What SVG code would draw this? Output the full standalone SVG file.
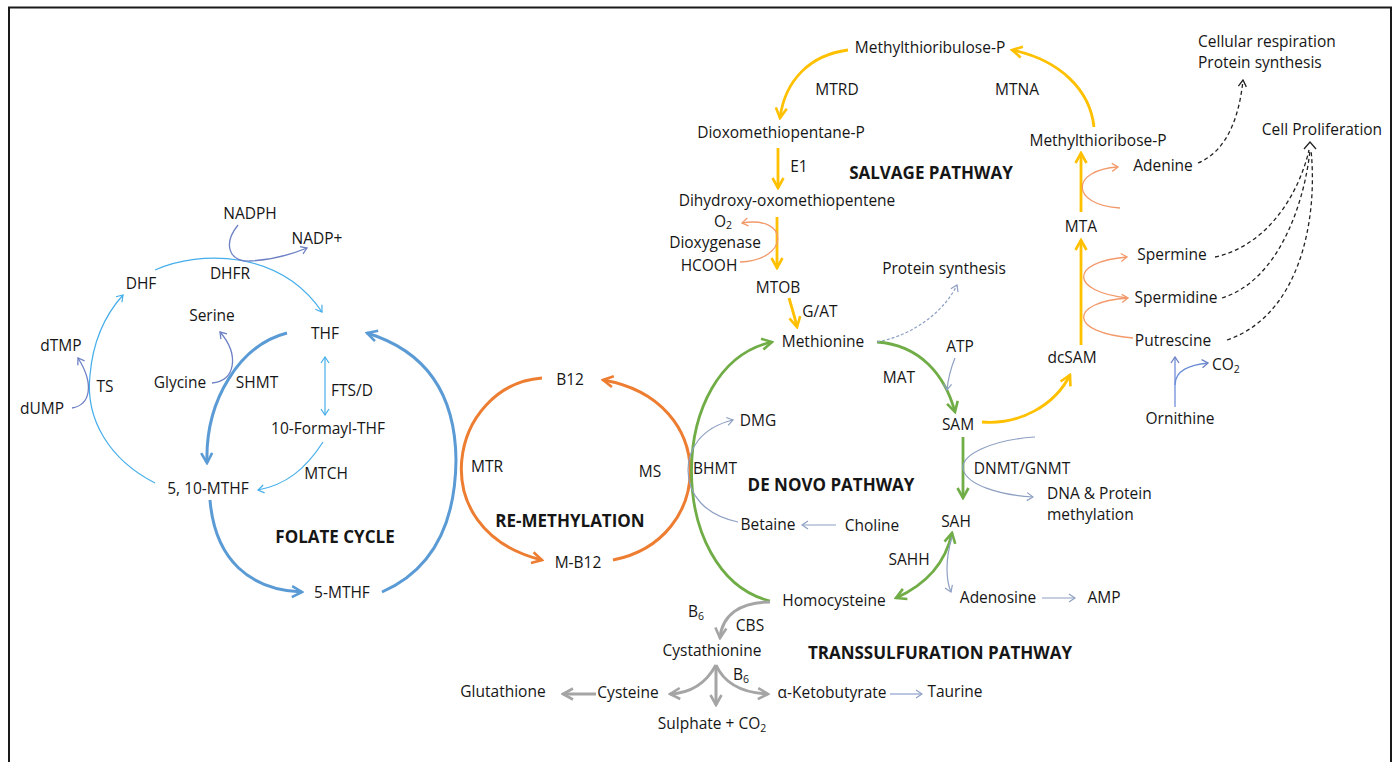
<svg xmlns="http://www.w3.org/2000/svg" width="1399" height="762" viewBox="0 0 1399 762">
<style>
.t{font-family:"Open Sans","Liberation Sans",sans-serif;font-size:15.5px;fill:#161616;text-anchor:middle}
.st{text-anchor:start}
.b{font-weight:bold;font-size:17px}
.sub{font-size:10.5px}
.c{fill:none}
.blue{stroke:#5B9BD5;stroke-width:3}
.lb{stroke:#45AEEA;stroke-width:1.2}
.sl{stroke:#6D80C4;stroke-width:1.3}
.or{stroke:#ED7D31;stroke-width:3}
.ot{stroke:#F29A6B;stroke-width:1.3}
.gr{stroke:#70AD47;stroke-width:2.8}
.ye{stroke:#FFC000;stroke-width:2.8}
.gy{stroke:#A5A5A5;stroke-width:3}
.gb{stroke:#8EA0C2;stroke-width:1.2}
.bk{stroke:#222;stroke-width:1.3;stroke-dasharray:4 3}
</style>
<defs>
<marker id="mBlue" viewBox="0 0 14 14" refX="12" refY="7" markerWidth="14" markerHeight="14" markerUnits="userSpaceOnUse" orient="auto"><path d="M2,1.5 L12,7 L2,12.5" fill="none" stroke="#5B9BD5" stroke-width="2.6"/></marker>
<marker id="mOr" viewBox="0 0 14 14" refX="12" refY="7" markerWidth="14" markerHeight="14" markerUnits="userSpaceOnUse" orient="auto"><path d="M2,1.5 L12,7 L2,12.5" fill="none" stroke="#ED7D31" stroke-width="2.6"/></marker>
<marker id="mGr" viewBox="0 0 14 14" refX="12" refY="7" markerWidth="14" markerHeight="14" markerUnits="userSpaceOnUse" orient="auto-start-reverse"><path d="M2,1.5 L12,7 L2,12.5" fill="none" stroke="#70AD47" stroke-width="2.6"/></marker>
<marker id="mYe" viewBox="0 0 14 14" refX="12" refY="7" markerWidth="14" markerHeight="14" markerUnits="userSpaceOnUse" orient="auto"><path d="M2,1.5 L12,7 L2,12.5" fill="none" stroke="#FFC000" stroke-width="2.6"/></marker>
<marker id="mGy" viewBox="0 0 14 14" refX="12" refY="7" markerWidth="14" markerHeight="14" markerUnits="userSpaceOnUse" orient="auto"><path d="M2,1.5 L12,7 L2,12.5" fill="none" stroke="#A5A5A5" stroke-width="2.6"/></marker>
<marker id="mLb" viewBox="0 0 10 10" refX="9" refY="5" markerWidth="10" markerHeight="10" markerUnits="userSpaceOnUse" orient="auto-start-reverse"><path d="M3,1 L9,5 L3,9" fill="none" stroke="#45AEEA" stroke-width="1.2"/></marker>
<marker id="mSl" viewBox="0 0 10 10" refX="9" refY="5" markerWidth="10" markerHeight="10" markerUnits="userSpaceOnUse" orient="auto"><path d="M3,1 L9,5 L3,9" fill="none" stroke="#6D80C4" stroke-width="1.3"/></marker>
<marker id="mOt" viewBox="0 0 10 10" refX="9" refY="5" markerWidth="10" markerHeight="10" markerUnits="userSpaceOnUse" orient="auto"><path d="M3,1 L9,5 L3,9" fill="none" stroke="#F29A6B" stroke-width="1.3"/></marker>
<marker id="mGb" viewBox="0 0 10 10" refX="9" refY="5" markerWidth="10" markerHeight="10" markerUnits="userSpaceOnUse" orient="auto"><path d="M3,1 L9,5 L3,9" fill="none" stroke="#8EA0C2" stroke-width="1.2"/></marker>
<marker id="mBk" viewBox="0 0 10 10" refX="9" refY="5" markerWidth="10" markerHeight="10" markerUnits="userSpaceOnUse" orient="auto"><path d="M2.5,1 L9,5 L2.5,9" fill="none" stroke="#222" stroke-width="1.3"/></marker>
</defs>
<rect x="0" y="0" width="1399" height="762" fill="#fff"/>
<rect x="9" y="7.5" width="1382" height="820" fill="none" stroke="#1a1a1a" stroke-width="2"/>

<g id="connectors">
<!-- folate cycle -->
<path class="c blue" d="M287,333 C240,345 205,400 207,463" marker-end="url(#mBlue)"/>
<path class="c blue" d="M210,500 C215,560 250,590 302,592" marker-end="url(#mBlue)"/>
<path class="c blue" d="M382,592 Q455,560 456,460 Q455,360 367,333" marker-end="url(#mBlue)"/>
<path class="c lb" d="M155,483 C110,460 85,420 90,375 C93,340 105,315 123,295" marker-end="url(#mLb)"/>
<path class="c lb" d="M155,270 C200,250 280,250 322,312" marker-end="url(#mLb)"/>
<path class="c sl" d="M238,225 C222,245 230,262 250,261 C270,260 290,255 307,248" marker-end="url(#mSl)"/>
<path class="c sl" d="M72,408 C90,405 95,385 78,358" marker-end="url(#mSl)"/>
<path class="c sl" d="M212,383 C235,382 240,355 220,332" marker-end="url(#mSl)"/>
<path class="c lb" d="M325,357 L325,415" marker-start="url(#mLb)" marker-end="url(#mLb)"/>
<path class="c lb" d="M323,442 C305,470 285,485 258,490" marker-end="url(#mLb)"/>
<!-- remethylation -->
<path class="c or" d="M542,378 C450,385 420,530 542,560" marker-end="url(#mOr)"/>
<path class="c or" d="M613,560 C715,540 720,400 603,380" marker-end="url(#mOr)"/>
<!-- de novo -->
<path class="c gr" d="M770,601 C665,575 665,365 772,342" marker-end="url(#mGr)"/>
<path class="c gr" d="M877,342 C920,345 945,375 955,412" marker-end="url(#mGr)"/>
<path class="c gr" d="M963,437 L963,498" marker-end="url(#mGr)"/>
<path class="c gr" d="M896,598 C925,585 945,565 952,533" marker-start="url(#mGr)" marker-end="url(#mGr)"/>
<path class="c gb" d="M877,342 C915,335 945,310 957,285" stroke-dasharray="3 2" marker-end="url(#mGb)"/>
<path class="c gb" d="M955,358 C950,370 948,380 947,390" marker-end="url(#mGb)"/>
<path class="c gb" d="M738,522 C705,515 688,495 688,470 C688,450 700,428 733,420" marker-end="url(#mGb)"/>
<path class="c gb" d="M836,525 L802,525" marker-end="url(#mGb)"/>
<path class="c gb" d="M1035,437 C990,440 962,455 963,468 C965,485 1000,495 1033,497" marker-end="url(#mGb)"/>
<path class="c gb" d="M952,537 C945,560 946,580 951,592" marker-end="url(#mGb)"/>
<path class="c gb" d="M1042,598 L1075,598" marker-end="url(#mGb)"/>
<!-- salvage -->
<path class="c ye" d="M848,50 C810,55 785,80 780,118" marker-end="url(#mYe)"/>
<path class="c ye" d="M778,148 L778,188" marker-end="url(#mYe)"/>
<path class="c ye" d="M777,217 L777,268" marker-end="url(#mYe)"/>
<path class="c ye" d="M789,298 C792,308 795,318 797,327" marker-end="url(#mYe)"/>
<path class="c ye" d="M1094,127 C1090,90 1060,60 1012,50" marker-end="url(#mYe)"/>
<path class="c ye" d="M982,422 C1020,425 1055,405 1070,375" marker-end="url(#mYe)"/>
<path class="c ye" d="M1081,345 L1081,240" marker-end="url(#mYe)"/>
<path class="c ye" d="M1081,212 L1081,153" marker-end="url(#mYe)"/>
<path class="c ot" d="M740,262 C790,260 790,215 742,223" marker-end="url(#mOt)"/>
<path class="c ot" d="M1120,208 C1070,205 1070,170 1118,167" marker-end="url(#mOt)"/>
<path class="c ot" d="M1128,298 C1070,292 1068,262 1127,257" marker-end="url(#mOt)"/>
<path class="c ot" d="M1133,338 C1068,333 1068,302 1128,298" marker-end="url(#mOt)"/>
<path class="c" stroke="#6E8FD8" stroke-width="1.3" d="M1175,407 L1175,357" marker-end="url(#mSl)"/>
<path class="c" stroke="#6E8FD8" stroke-width="1.3" d="M1175,385 C1175,370 1190,365 1208,363" marker-end="url(#mSl)"/>
<path class="c bk" d="M1198,163 C1230,150 1240,110 1243,80" marker-end="url(#mBk)"/>
<path class="c bk" d="M1215,257 C1270,245 1300,190 1309,150"/>
<path class="c bk" d="M1222,298 C1280,280 1305,200 1310,150"/>
<path class="c bk" d="M1227,340 C1300,315 1318,220 1311,150"/>
<path class="c" stroke="#222" stroke-width="1.3" d="M1304,149 L1310,142 L1316,149"/>
<!-- transsulfuration -->
<path class="c gy" d="M770,602 C740,602 722,615 720,638" marker-end="url(#mGy)"/>
<path class="c gy" d="M716,665 C705,685 690,693 670,694" marker-end="url(#mGy)"/>
<path class="c gy" d="M716,665 L716,705" marker-end="url(#mGy)"/>
<path class="c gy" d="M716,665 C725,685 745,693 768,694" marker-end="url(#mGy)"/>
<path class="c gy" d="M596,694 L563,694" marker-end="url(#mGy)"/>
<path class="c" stroke="#8EA0D0" stroke-width="1.2" d="M890,694 L922,694" marker-end="url(#mGb)"/>
</g>

<g id="folate">
<g id="n-nadph"><text class="t" x="250" y="219">NADPH</text></g>
<g id="n-nadp"><text class="t" x="317" y="244">NADP+</text></g>
<g id="n-dhf"><text class="t" x="141" y="289">DHF</text></g>
<g id="n-dhfr"><text class="t" x="230" y="279">DHFR</text></g>
<g id="n-serine"><text class="t" x="212" y="321">Serine</text></g>
<g id="n-thf"><text class="t" x="325" y="339">THF</text></g>
<g id="n-dtmp"><text class="t" x="61" y="351">dTMP</text></g>
<g id="n-ts"><text class="t" x="105" y="392">TS</text></g>
<g id="n-glycine"><text class="t" x="180" y="388">Glycine</text></g>
<g id="n-shmt"><text class="t" x="257" y="388">SHMT</text></g>
<g id="n-ftsd"><text class="t" x="352" y="396">FTS/D</text></g>
<g id="n-dump"><text class="t" x="42" y="414">dUMP</text></g>
<g id="n-formyl"><text class="t" x="328" y="434">10-Formayl-THF</text></g>
<g id="n-mtch"><text class="t" x="326" y="479">MTCH</text></g>
<g id="n-510mthf"><text class="t" x="208" y="494">5, 10-MTHF</text></g>
<g id="n-folate"><text class="t b" x="335" y="543">FOLATE CYCLE</text></g>
<g id="n-5mthf"><text class="t" x="342" y="598">5-MTHF</text></g>
</g>

<g id="remethylation">
<g id="n-b12"><text class="t" x="570" y="385">B12</text></g>
<g id="n-mtr"><text class="t" x="487" y="472">MTR</text></g>
<g id="n-ms"><text class="t" x="650" y="477">MS</text></g>
<g id="n-remeth"><text class="t b" x="570" y="527">RE-METHYLATION</text></g>
<g id="n-mb12"><text class="t" x="578" y="568">M-B12</text></g>
<g id="n-bhmt"><text class="t" x="715" y="474">BHMT</text></g>
</g>

<g id="salvage">
<g id="n-mtrp"><text class="t" x="930" y="53">Methylthioribulose-P</text></g>
<g id="n-mtrd"><text class="t" x="837" y="95">MTRD</text></g>
<g id="n-mtna"><text class="t" x="1017" y="95">MTNA</text></g>
<g id="n-dmp"><text class="t" x="781" y="138">Dioxomethiopentane-P</text></g>
<g id="n-e1"><text class="t" x="799" y="172">E1</text></g>
<g id="n-salvage"><text class="t b" x="931" y="179">SALVAGE PATHWAY</text></g>
<g id="n-mtribp"><text class="t" x="1098" y="146">Methylthioribose-P</text></g>
<g id="n-dho"><text class="t" x="787" y="206">Dihydroxy-oxomethiopentene</text></g>
<g id="n-o2"><text class="t st" x="714" y="227">O<tspan class="sub" dy="2">2</tspan></text></g>
<g id="n-dioxy"><text class="t" x="715" y="248">Dioxygenase</text></g>
<g id="n-hcooh"><text class="t" x="709" y="271">HCOOH</text></g>
<g id="n-prot1"><text class="t" x="944" y="274">Protein synthesis</text></g>
<g id="n-mtob"><text class="t" x="778" y="293">MTOB</text></g>
<g id="n-gat"><text class="t" x="820" y="317">G/AT</text></g>
</g>

<g id="denovo">
<g id="n-methionine"><text class="t" x="823" y="347">Methionine</text></g>
<g id="n-atp"><text class="t" x="960" y="352">ATP</text></g>
<g id="n-mat"><text class="t" x="899" y="383">MAT</text></g>
<g id="n-dcsam"><text class="t" x="1072" y="363">dcSAM</text></g>
<g id="n-sam"><text class="t" x="958" y="430">SAM</text></g>
<g id="n-dmg"><text class="t" x="758" y="426">DMG</text></g>
<g id="n-denovo"><text class="t b" x="831" y="491">DE NOVO PATHWAY</text></g>
<g id="n-dnmt"><text class="t" x="1022" y="474">DNMT/GNMT</text></g>
<g id="n-dnameth"><text class="t st" x="1047" y="499">DNA &amp; Protein</text><text class="t st" x="1047" y="520">methylation</text></g>
<g id="n-sah"><text class="t" x="956" y="527">SAH</text></g>
<g id="n-betaine"><text class="t" x="768" y="530">Betaine</text></g>
<g id="n-choline"><text class="t" x="872" y="531">Choline</text></g>
<g id="n-sahh"><text class="t" x="909" y="565">SAHH</text></g>
<g id="n-adenosine"><text class="t" x="998" y="603">Adenosine</text></g>
<g id="n-amp"><text class="t" x="1104" y="603">AMP</text></g>
<g id="n-homocys"><text class="t" x="834" y="606">Homocysteine</text></g>
</g>

<g id="transsulfuration">
<g id="n-b6a"><text class="t st" x="688" y="617">B<tspan class="sub" dy="3">6</tspan></text></g>
<g id="n-cbs"><text class="t" x="750" y="631">CBS</text></g>
<g id="n-cysta"><text class="t" x="712" y="656">Cystathionine</text></g>
<g id="n-trans"><text class="t b" x="940" y="659">TRANSSULFURATION PATHWAY</text></g>
<g id="n-b6b"><text class="t st" x="733" y="680">B<tspan class="sub" dy="3">6</tspan></text></g>
<g id="n-glut"><text class="t" x="503" y="697">Glutathione</text></g>
<g id="n-cys"><text class="t" x="628" y="698">Cysteine</text></g>
<g id="n-akb"><text class="t" x="832" y="698">α-Ketobutyrate</text></g>
<g id="n-taurine"><text class="t" x="955" y="697">Taurine</text></g>
<g id="n-sulph"><text class="t" x="712" y="729">Sulphate + CO<tspan class="sub" dy="3">2</tspan></text></g>
</g>

<g id="polyamines">
<g id="n-cellresp"><text class="t st" x="1198" y="47">Cellular respiration</text><text class="t st" x="1198" y="68">Protein synthesis</text></g>
<g id="n-cellprol"><text class="t" x="1322" y="135">Cell Proliferation</text></g>
<g id="n-adenine"><text class="t" x="1163" y="171">Adenine</text></g>
<g id="n-mta"><text class="t" x="1081" y="232">MTA</text></g>
<g id="n-spermine"><text class="t" x="1172" y="260">Spermine</text></g>
<g id="n-spermidine"><text class="t" x="1176" y="303">Spermidine</text></g>
<g id="n-putrescine"><text class="t" x="1173" y="346">Putrescine</text></g>
<g id="n-co2"><text class="t st" x="1212" y="370">CO<tspan class="sub" dy="3">2</tspan></text></g>
<g id="n-ornithine"><text class="t" x="1180" y="424">Ornithine</text></g>
</g>
</svg>
